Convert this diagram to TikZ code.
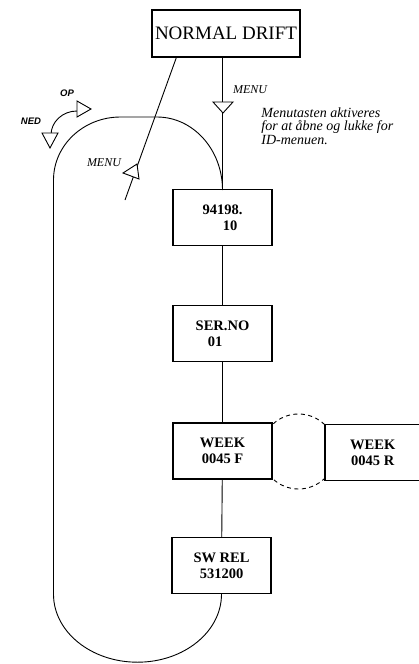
\documentclass[tikz,border=0pt]{standalone}
\usepackage{fontspec}
\setmainfont{Liberation Serif}
\newfontfamily\lblsans{Liberation Sans}
\tikzset{idbox/.style={draw, line width=1.4pt, minimum width=99pt, minimum height=56pt, inner sep=0pt, align=center, fill=white, font=\fontsize{14.5}{16}\selectfont\bfseries},
  menulbl/.style={font=\fontsize{12}{12}\selectfont\itshape},
  updown/.style={font=\fontsize{9.5}{10}\selectfont\lblsans\itshape\bfseries}}
\begin{document}
\begin{tikzpicture}[x=1pt, y=1pt, line width=0.9pt]
\useasboundingbox (0,0) rectangle (419,-664);
% dashed link between the two week boxes
\draw[dashed, dash pattern=on 4pt off 3.5pt] (298.5,-451.5) circle[radius=37.5pt];
% menu boxes
\node[draw, line width=1.4pt, minimum width=148pt, minimum height=47pt, inner sep=0pt, font=\fontsize{19}{21}\selectfont] (nd) at (226,-33.5) {NORMAL DRIFT};
\node[idbox] (id) at (222.5,-217.5) {94198.\\\hspace*{15pt}10};
\node[idbox] (ser) at (222.5,-333.5) {SER.NO\\01\hspace*{15pt}};
\node[idbox] (wf) at (222.5,-451) {WEEK\\0045 F};
\node[idbox, minimum width=95.5pt] (wr) at (372.75,-452.5) {WEEK\\0045 R};
\node[idbox] (sw) at (221.5,-565.5) {SW REL\\531200};
% connectors
\draw (id.north |- nd.south) -- (id.north);
\draw (id) -- (ser);
\draw (ser) -- (wf);
\draw (wf) -- (sw);
\draw (sw.south) arc[start angle=0, end angle=-180, x radius=84pt, y radius=68pt] -- (53.5,-180)
  arc[start angle=180, end angle=90, x radius=67pt, y radius=63pt] -- (157,-117)
  arc[start angle=90, end angle=0, x radius=65.5pt, y radius=73pt];
\coordinate (ret) at (125,-200);
\draw ([xshift=25pt]nd.south west) -- (ret);
% open triangles
\draw[fill=white] (213,-102) -- (233,-102) -- (223,-113) -- cycle;
\draw[fill=white] (123,-173) -- (137,-164) -- (139,-179) -- cycle;
\draw (77,-111) arc[start angle=90, end angle=180, x radius=26pt, y radius=24pt];
\draw[fill=white] (77,-101) -- (91,-109) -- (77,-117) -- cycle;
\draw[fill=white] (42,-133) -- (58,-133) -- (50,-148) -- cycle;
% labels
\node[menulbl] (m1) at (250,-90) {MENU};
\node[menulbl] (m2) at (104,-163) {MENU};
\node[updown] (op) at (67,-93) {OP};
\node[updown] (ned) at (31,-121) {NED};
\node[anchor=north west, align=left, inner sep=0pt, font=\fontsize{14}{13.5}\selectfont\itshape] (note) at (261,-107) {Menutasten aktiveres\\for at åbne og lukke for\\ID-menuen.};
\end{tikzpicture}
\end{document}
